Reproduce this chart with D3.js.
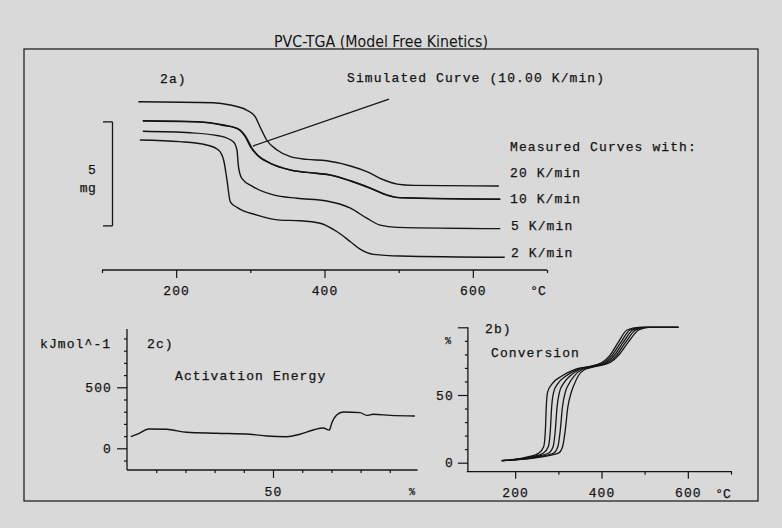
<!DOCTYPE html>
<html><head><meta charset="utf-8">
<script src="https://cdn.jsdelivr.net/npm/d3@7"></script>
<style>
html,body{margin:0;padding:0;background:#d9d9d9;}
svg{display:block;}
</style></head>
<body>
<script>
// ---------- DATA ----------
const titleText = "PVC-TGA (Model Free Kinetics)";
// Panel 2a: TGA mass curves [temperature °C, mass mg (offset)]
const tga20K = [[149,8.09],[250,8.04],[273,7.93],[295,7.69],[306.5,7.37],[313,6.89],[322,6.25],[336,5.77],[354,5.45],[376,5.32],[403,5.25],[435,5.0],[457,4.73],[480,4.33],[498,4.13],[520,4.07],[635,4.04]];
const tga10K = [[155,7.18],[228,7.13],[264,6.97],[282,6.81],[293,6.41],[300,5.93],[309,5.53],[327,5.13],[354,4.81],[390,4.65],[408,4.57],[435,4.29],[466,3.88],[484,3.61],[502,3.48],[637,3.40]];
const tgaSim = [[155,7.16],[228,7.12],[264,6.95],[283.5,6.78],[294.5,6.38],[301.5,5.90],[310.5,5.50],[328,5.11],[355,4.80],[390,4.64],[408,4.56],[435,4.28],[466,3.87],[484,3.60],[502,3.47],[637,3.40]];
const tga5K = [[155,6.67],[219,6.60],[259,6.44],[277,6.17],[282,5.77],[284,4.97],[288.5,4.41],[304,4.0],[331,3.61],[363,3.45],[403,3.32],[435,2.97],[457,2.49],[475,2.16],[498,2.05],[637,1.99]];
const tga2K = [[151,6.25],[205,6.17],[241,6.01],[257,5.77],[264,5.29],[268.5,4.33],[273,3.28],[282,3.01],[309,2.64],[340,2.40],[367,2.37],[394,2.25],[417,1.84],[435,1.36],[448,1.0],[466,0.75],[502,0.67],[643,0.61]];
const tgaRateLabels = ["20 K/min","10 K/min","5 K/min","2 K/min"];
const simPointer = [[303.5,5.96],[487,8.22]];
const scaleBarMg = 5;
const tgaXTicks = [200,400,600];
const tgaXMinor = [100,300,500,700];

// Panel 2b: conversion [temperature °C, conversion %]
const conv2K  = [[169,1.5],[231,4.4],[254,6.9],[266,11.8],[270,24],[272,41],[275,52],[285,58],[308,64],[339,69],[370,71],[401,74],[420,79.5],[439,89],[459,98],[486,100],[578,100]];
const conv5K  = [[169,1.5],[239,4.4],[265,7],[277,12],[281.5,24],[284.5,41],[289,52],[298,58],[317.5,64],[345,69],[374,71],[406,74],[425,79.5],[445,89],[466,98],[492,100],[578,100]];
const conv10K = [[169,1.5],[246,4.4],[277,7],[288,12],[293,24],[297,41],[302.5,52],[311,58],[327,64],[350.5,69],[377.5,71],[410.5,74],[430,79.5],[450.5,89],[472.5,98],[497.5,100],[578,100]];
const convSim = [[169,1.5],[254,4.4],[288.5,7],[299,12],[304.5,24],[309.5,41],[316,52],[324,58],[336.5,64],[356,69],[381,71],[415,74],[435,79.5],[456,89],[479,98],[503,100],[578,100]];
const conv20K = [[169,1.5],[262,4.4],[300,7],[310,12],[316,24],[322,41],[330,52],[337,58],[346,64],[362,69],[385,71],[420,74],[440,79.5],[462,89],[486,98],[509,100],[578,100]];
const convXTicks = [200,400,600];
const convXMinor = [300,500,700];
const convYTicks = [0,50,100];
const convYMinor = [10,20,30,40,60,70,80,90];

// Panel 2c: activation energy [conversion %, kJ/mol]
const energy = [[1.3,95],[4,120],[7.3,158],[13.6,156],[20.4,131],[30.7,123],[42.1,115],[47.8,101],[54.7,95],[59.2,115],[63.8,150],[67.2,166],[69.3,150],[70.1,205],[71.8,273],[74.1,298],[79.8,292],[82.1,270],[84.3,279],[90.1,270],[98.6,265]];
const energyXTicks = [50];
const energyXMinor = [10,20,30,40,60,70,80,90];
const energyYTicks = [0,500];
const energyYMinor = [-100,100,200,300,400,600,700,800,900];

// ---------- DRAW ----------
const W = 782, H = 528;
const INK = "#141414";
const MONO = "'Liberation Mono','DejaVu Sans Mono',monospace";
const svg = d3.select("body").append("svg").attr("width", W).attr("height", H);
svg.append("rect").attr("width", W).attr("height", H).attr("fill", "#d9d9d9");

function txt(x, y, s, opt = {}) {
  return svg.append("text").attr("x", x).attr("y", y).text(s)
    .attr("font-family", opt.family || MONO)
    .attr("font-size", opt.size || 13)
    .attr("letter-spacing", opt.ls != null ? opt.ls : 1.1)
    .attr("text-anchor", opt.anchor || "start")
    .attr("fill", INK).attr("stroke", INK).attr("stroke-width", 0.25);
}
function styleAxis(g, size) {
  g.select(".domain").remove();
  g.selectAll(".tick line").attr("stroke", INK).attr("stroke-width", 1.2);
  g.selectAll(".tick text").attr("font-family", MONO).attr("font-size", size || 13)
    .attr("letter-spacing", 1.1).attr("fill", INK).attr("stroke", INK).attr("stroke-width", 0.25);
}
const hline = (x1, x2, y) => svg.append("line").attr("x1", x1).attr("x2", x2).attr("y1", y).attr("y2", y).attr("stroke", INK).attr("stroke-width", 1.3);
const vline = (x, y1, y2) => svg.append("line").attr("x1", x).attr("x2", x).attr("y1", y1).attr("y2", y2).attr("stroke", INK).attr("stroke-width", 1.3);

// Frame and title
svg.append("rect").attr("x", 24).attr("y", 49).attr("width", 734).attr("height", 452)
  .attr("fill", "none").attr("stroke", INK).attr("stroke-width", 1.2);
svg.append("text").attr("x", 381).attr("y", 47).text(titleText)
  .attr("font-family", "'Liberation Sans Narrow','DejaVu Sans Condensed','Liberation Sans',sans-serif")
  .attr("font-size", 15).attr("text-anchor", "middle").attr("fill", INK)
  .attr("textLength", 214).attr("lengthAdjust", "spacingAndGlyphs");

// ---- Panel 2a ----
const x2a = d3.scaleLinear().domain([100, 700]).range([102, 547]);
const y2a = d3.scaleLinear().domain([0, 10]).range([270, 62]);
const line2a = d3.line().x(d => x2a(d[0])).y(d => y2a(d[1])).curve(d3.curveMonotoneX);
[tga20K, tga10K, tgaSim, tga5K, tga2K].forEach(s => {
  svg.append("path").attr("d", line2a(s)).attr("fill", "none").attr("stroke", INK).attr("stroke-width", 1.4);
});
svg.append("path").attr("d", d3.line().x(d => x2a(d[0])).y(d => y2a(d[1]))(simPointer))
  .attr("fill", "none").attr("stroke", INK).attr("stroke-width", 1.3);
hline(x2a(100), x2a(700), y2a(0));
const ax2a = svg.append("g").attr("transform", `translate(0,${y2a(0)})`)
  .call(d3.axisBottom(x2a).tickValues(tgaXTicks).tickSize(8).tickPadding(8).tickFormat(d3.format("d")));
styleAxis(ax2a);
const ax2am = svg.append("g").attr("transform", `translate(0,${y2a(0)})`)
  .call(d3.axisBottom(x2a).tickValues(tgaXMinor).tickSize(3).tickFormat(""));
styleAxis(ax2am);
txt(538, 294.5, "°C", {anchor: "middle", ls: 0});
// scale bar (5 mg)
const sb0 = y2a(2.12), sb1 = y2a(2.12 + scaleBarMg);
vline(112.5, sb1, sb0); hline(103, 112.5, sb1); hline(103, 112.5, sb0);
txt(92, 173.5, String(scaleBarMg), {anchor: "middle", ls: 0});
txt(88, 192, "mg", {anchor: "middle", ls: 0.5});
txt(160, 83, "2a)");
txt(347, 82, "Simulated Curve (10.00 K/min)");
txt(510, 151, "Measured Curves with:");
const rateY = [176.5, 203.3, 230, 257];
tgaRateLabels.forEach((l, i) => txt(i < 2 ? 510 : 511, rateY[i], l));

// ---- Panel 2b ----
const x2b = d3.scaleLinear().domain([100, 700]).range([472, 731]);
const y2b = d3.scaleLinear().domain([0, 100]).range([462.7, 327.3]);
const line2b = d3.line().x(d => x2b(d[0])).y(d => y2b(d[1])).curve(d3.curveMonotoneX);
[conv2K, conv5K, conv10K, convSim, conv20K].forEach(s => {
  svg.append("path").attr("d", line2b(s)).attr("fill", "none").attr("stroke", INK).attr("stroke-width", 1.3);
});
vline(x2b(90.5), y2b(100), y2b(-6.6));
hline(x2b(88), x2b(702), y2b(-6.6));
const ax2bx = svg.append("g").attr("transform", `translate(0,${y2b(-6.6)})`)
  .call(d3.axisBottom(x2b).tickValues(convXTicks).tickSize(7).tickPadding(9).tickFormat(d3.format("d")));
styleAxis(ax2bx);
const ax2bxm = svg.append("g").attr("transform", `translate(0,${y2b(-6.6)})`)
  .call(d3.axisBottom(x2b).tickValues(convXMinor).tickSize(3).tickFormat(""));
styleAxis(ax2bxm);
const ax2by = svg.append("g").attr("transform", `translate(${x2b(90.5)},0)`)
  .call(d3.axisLeft(y2b).tickValues(convYTicks).tickSize(10).tickPadding(4).tickFormat(d => d === 100 ? "" : d));
styleAxis(ax2by);
const ax2bym = svg.append("g").attr("transform", `translate(${x2b(90.5)},0)`)
  .call(d3.axisLeft(y2b).tickValues(convYMinor).tickSize(3).tickFormat(""));
styleAxis(ax2bym);
txt(448, y2b(90) + 3, "%", {anchor: "middle", size: 10, ls: 0});
txt(723, 497.5, "°C", {anchor: "middle", ls: 0});
txt(485, 332.5, "2b)");
txt(491, 356.5, "Conversion");

// ---- Panel 2c ----
const x2c = d3.scaleLinear().domain([0, 100]).range([127, 419]);
const y2c = d3.scaleLinear().domain([0, 500]).range([448.3, 387.3]);
const line2c = d3.line().x(d => x2c(d[0])).y(d => y2c(d[1])).curve(d3.curveMonotoneX);
svg.append("path").attr("d", line2c(energy)).attr("fill", "none").attr("stroke", INK).attr("stroke-width", 1.4);
vline(x2c(0), y2c(978), y2c(-178));
hline(x2c(0), x2c(99.5), y2c(-178));
const ax2cx = svg.append("g").attr("transform", `translate(0,${y2c(-178)})`)
  .call(d3.axisBottom(x2c).tickValues(energyXTicks).tickSize(8).tickPadding(9).tickFormat(d3.format("d")));
styleAxis(ax2cx);
const ax2cxm = svg.append("g").attr("transform", `translate(0,${y2c(-178)})`)
  .call(d3.axisBottom(x2c).tickValues(energyXMinor).tickSize(3).tickFormat(""));
styleAxis(ax2cxm);
const ax2cy = svg.append("g").attr("transform", `translate(${x2c(0)},0)`)
  .call(d3.axisLeft(y2c).tickValues(energyYTicks).tickSize(10).tickPadding(5).tickFormat(d3.format("d")));
styleAxis(ax2cy);
const ax2cym = svg.append("g").attr("transform", `translate(${x2c(0)},0)`)
  .call(d3.axisLeft(y2c).tickValues(energyYMinor).tickSize(3).tickFormat(""));
styleAxis(ax2cym);
txt(412, 495, "%", {anchor: "middle", size: 10, ls: 0});
txt(40, 347.5, "kJmol^-1");
txt(147, 347.5, "2c)");
txt(175, 379.5, "Activation Energy");
</script>
</body></html>
